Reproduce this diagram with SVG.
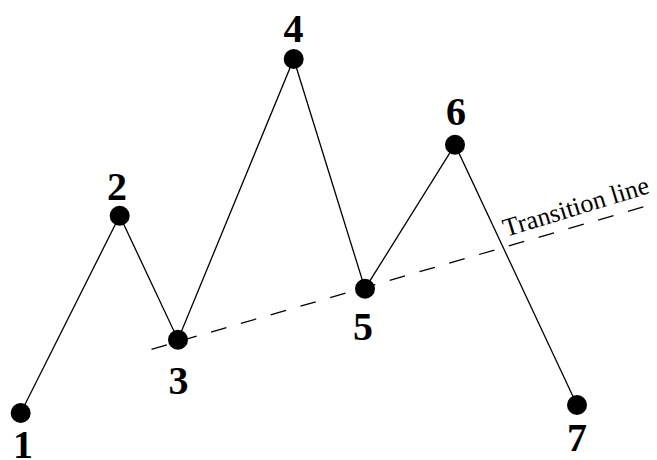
<svg xmlns="http://www.w3.org/2000/svg" width="657" height="460" viewBox="0 0 657 460">
<style>
.dot{fill:#000}
.lbl{font-family:"Liberation Serif","Times New Roman",serif;font-weight:bold;font-size:40px;text-anchor:middle;fill:#000}
.edge{stroke:#000;stroke-width:1.3;fill:none}
.dash{stroke:#000;stroke-width:1.3;stroke-dasharray:16 15;fill:none}
.tl{font-family:"Liberation Serif","Times New Roman",serif;font-size:26px;fill:#000}
</style>
<rect width="657" height="460" fill="#fff"/>
<g id="connectors">
<polyline class="edge" points="20.7,413 119.7,215.7 178,339.7 293.7,59 365,288.7 455,144.7 577,405"/>
<line class="dash" x1="151.5" y1="349.3" x2="657" y2="203"/>
<text class="tl" transform="translate(506,237) rotate(-17)">Transition line</text>
</g>
<g id="n1"><circle class="dot" cx="20.7" cy="413" r="10"/><text class="lbl" x="23" y="458">1</text></g>
<g id="n2"><circle class="dot" cx="119.7" cy="215.7" r="10"/><text class="lbl" x="117" y="200">2</text></g>
<g id="n3"><circle class="dot" cx="178" cy="339.7" r="10"/><text class="lbl" x="178.5" y="394">3</text></g>
<g id="n4"><circle class="dot" cx="293.7" cy="59" r="10"/><text class="lbl" x="293.5" y="42">4</text></g>
<g id="n5"><circle class="dot" cx="365" cy="288.7" r="10"/><text class="lbl" x="363" y="340">5</text></g>
<g id="n6"><circle class="dot" cx="455" cy="144.7" r="10"/><text class="lbl" x="456" y="125">6</text></g>
<g id="n7"><circle class="dot" cx="577" cy="405" r="10"/><text class="lbl" x="577" y="451">7</text></g>
</svg>
